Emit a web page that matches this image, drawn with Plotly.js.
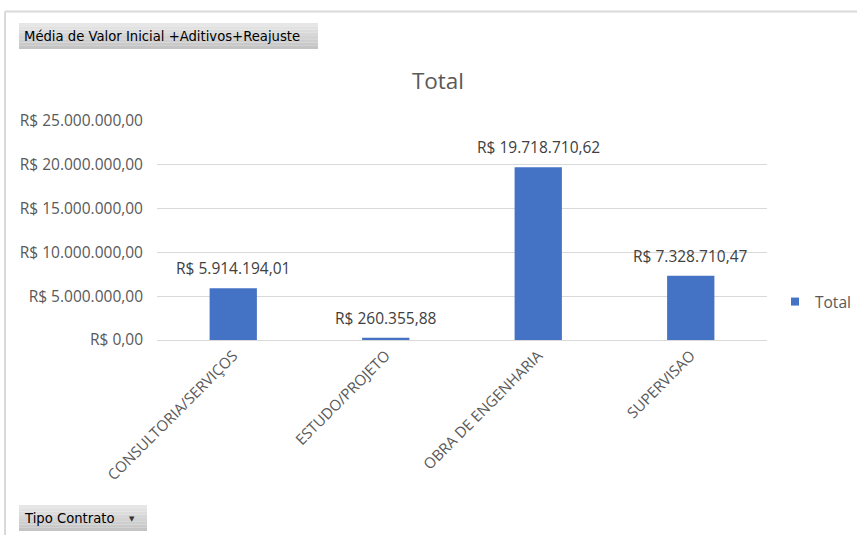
<!DOCTYPE html>
<html>
<head>
<meta charset="utf-8">
<script src="https://cdn.plot.ly/plotly-3.0.1.min.js"></script>
<style>html,body{margin:0;padding:0;background:#fff;}#chart{width:857px;height:535px;}</style>
</head>
<body>
<div id="chart"></div>
<script>
const categories = ["CONSULTORIA/SERVIÇOS", "ESTUDO/PROJETO", "OBRA DE ENGENHARIA", "SUPERVISAO"];
const totals = [5914194.01, 260355.88, 19718710.62, 7328710.47];
const seriesName = "Total";
const yTicks = [0, 5000000, 10000000, 15000000, 20000000, 25000000];

const W = 857, H = 535;
const L = 157, R = 90, T = 121, B = 195;
const pw = W - L - R, ph = H - T - B;
const px = x => (x - L) / pw;
const py = y => (H - B - y) / ph;

const font = "'Open Sans', 'Noto Sans', sans-serif";
const btnFont = "'DejaVu Sans', sans-serif";

function fmt(v) {
  const parts = v.toFixed(2).split(".");
  parts[0] = parts[0].replace(/\B(?=(\d{3})+(?!\d))/g, ".");
  return "R$ " + parts[0] + "," + parts[1];
}

const barTrace = {
  type: "bar",
  x: categories,
  y: totals,
  name: seriesName,
  marker: {color: "#4472C4"},
  hoverinfo: "none",
  showlegend: false
};
const legendTrace = {
  type: "scatter", mode: "markers",
  x: [null], y: [null],
  name: seriesName,
  marker: {color: "#4472C4", symbol: "square", size: 8},
  showlegend: true, hoverinfo: "none"
};

const annotations = categories.map((c, i) => ({
  x: c, y: totals[i], xref: "x", yref: "y",
  text: fmt(totals[i]), showarrow: false,
  yanchor: "bottom", yshift: 7,
  font: {family: font, size: 15.5, color: "#404040"}
}));

function gradientRects(x0, x1, y0, y1, c1, c2, n) {
  const out = [];
  const h = (y1 - y0) / n;
  const a = [parseInt(c1.slice(1,3),16), parseInt(c1.slice(3,5),16), parseInt(c1.slice(5,7),16)];
  const b = [parseInt(c2.slice(1,3),16), parseInt(c2.slice(3,5),16), parseInt(c2.slice(5,7),16)];
  for (let k = 0; k < n; k++) {
    const t = k / (n - 1);
    const col = "rgb(" + a.map((v, j) => Math.round(v + (b[j] - v) * t)).join(",") + ")";
    out.push({type: "rect", xref: "paper", yref: "paper",
      x0: px(x0), x1: px(x1), y0: py(y0 + h * k), y1: py(y0 + h * (k + 1)),
      fillcolor: col, line: {width: 0}, layer: "below"});
  }
  return out;
}

const shapes = [
  {type: "line", xref: "paper", yref: "paper", x0: px(5), x1: px(857), y0: py(11.5), y1: py(11.5), line: {color: "#d9d9d9", width: 2}},
  {type: "line", xref: "paper", yref: "paper", x0: px(5), x1: px(5), y0: py(11.5), y1: py(535), line: {color: "#d9d9d9", width: 2}},
  ...gradientRects(19, 318, 23, 49, "#e6e6e6", "#c4c4c4", 8),
  ...gradientRects(19, 147, 505, 531, "#e6e6e6", "#c4c4c4", 8)
];

annotations.push(
  {xref: "paper", yref: "paper", x: px(22), y: py(36), xanchor: "left", yanchor: "middle",
   text: "Média de Valor Inicial +Aditivos+Reajuste", showarrow: false,
   font: {family: btnFont, size: 13.2, color: "#000"}},
  {xref: "paper", yref: "paper", x: px(22), y: py(518), xanchor: "left", yanchor: "middle",
   text: "Tipo Contrato", showarrow: false,
   font: {family: btnFont, size: 13.2, color: "#000"}},
  {xref: "paper", yref: "paper", x: px(132), y: py(519), xanchor: "center", yanchor: "middle",
   text: "▼", showarrow: false,
   font: {family: btnFont, size: 7, color: "#333"}}
);

const layout = {
  width: W, height: H,
  margin: {l: L, r: R, t: T, b: B, pad: 0, autoexpand: false},
  paper_bgcolor: "#fff", plot_bgcolor: "#fff",
  separators: ",.",
  title: {text: "Total", x: 438 / W, xref: "container", xanchor: "center",
          y: 1 - 81 / H, yref: "container", yanchor: "middle",
          font: {family: font, size: 22.5, color: "#595959"}},
  xaxis: {type: "category", tickangle: -45, showgrid: false, zeroline: false,
          showline: true, linecolor: "#d9d9d9", linewidth: 1, ticks: "",
          tickfont: {family: font, size: 15, color: "#595959"}, fixedrange: true},
  yaxis: {range: [0, 25000000], tickmode: "array", tickvals: yTicks, ticktext: yTicks.map(fmt),
          showgrid: true, gridcolor: "#d9d9d9", gridwidth: 1, zeroline: false, showline: false,
          ticks: "", ticklabelstandoff: 13,
          tickfont: {family: font, size: 15.5, color: "#595959"}, fixedrange: true},
  bargap: 0.69,
  showlegend: true,
  legend: {x: px(775), y: py(302), xanchor: "left", yanchor: "middle",
           font: {family: font, size: 15.5, color: "#595959"}, bgcolor: "rgba(0,0,0,0)",
           itemwidth: 30},
  shapes: shapes,
  annotations: annotations
};

Plotly.newPlot("chart", [barTrace, legendTrace], layout, {displayModeBar: false, staticPlot: true});
</script>
</body>
</html>
